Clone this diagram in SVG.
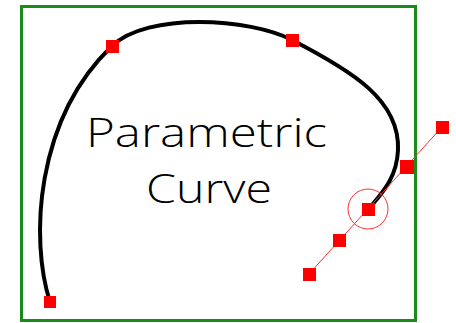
<svg xmlns="http://www.w3.org/2000/svg" width="456" height="323" viewBox="0 0 456 323">
<style>
.pt{fill:#ff0000}
.lbl{font-family:"Open Sans","DejaVu Sans",sans-serif;font-weight:300;font-size:40px;fill:#000}
</style>
<rect x="0" y="0" width="456" height="323" fill="#fff"/>
<g id="frame"><rect x="21.5" y="6.5" width="394" height="314" fill="none" stroke="#1a8a1a" stroke-width="3"/></g>
<g id="connectors">
<path id="curve" d="M50,302 C30,240 35,120 112,46 C147,12 250,18 292,40 C352,71 400,100 398,150 C397,175 385,190 372,205" fill="none" stroke="#000" stroke-width="4"/>
<line id="tangent" x1="309" y1="274" x2="442" y2="127" stroke="#ff3030" stroke-width="1"/>
<circle id="selector" cx="368" cy="209" r="20" fill="none" stroke="#ff3030" stroke-width="1"/>
</g>
<g id="p1"><rect class="pt" x="44" y="296" width="12" height="12"/></g>
<g id="p2"><rect class="pt" x="106" y="40" width="13" height="13"/></g>
<g id="p3"><rect class="pt" x="286" y="34" width="13" height="13"/></g>
<g id="p4"><rect class="pt" x="400" y="160" width="14" height="14"/></g>
<g id="p5"><rect class="pt" x="362" y="203" width="13" height="13"/></g>
<g id="p6"><rect class="pt" x="436" y="121" width="13" height="13"/></g>
<g id="p7"><rect class="pt" x="333" y="234" width="13" height="13"/></g>
<g id="p8"><rect class="pt" x="303" y="268" width="13" height="13"/></g>
<g id="label">
<text class="lbl" x="86" y="147" textLength="241" lengthAdjust="spacingAndGlyphs">Parametric</text>
<text class="lbl" x="146" y="203" textLength="126" lengthAdjust="spacingAndGlyphs">Curve</text>
</g>
</svg>
